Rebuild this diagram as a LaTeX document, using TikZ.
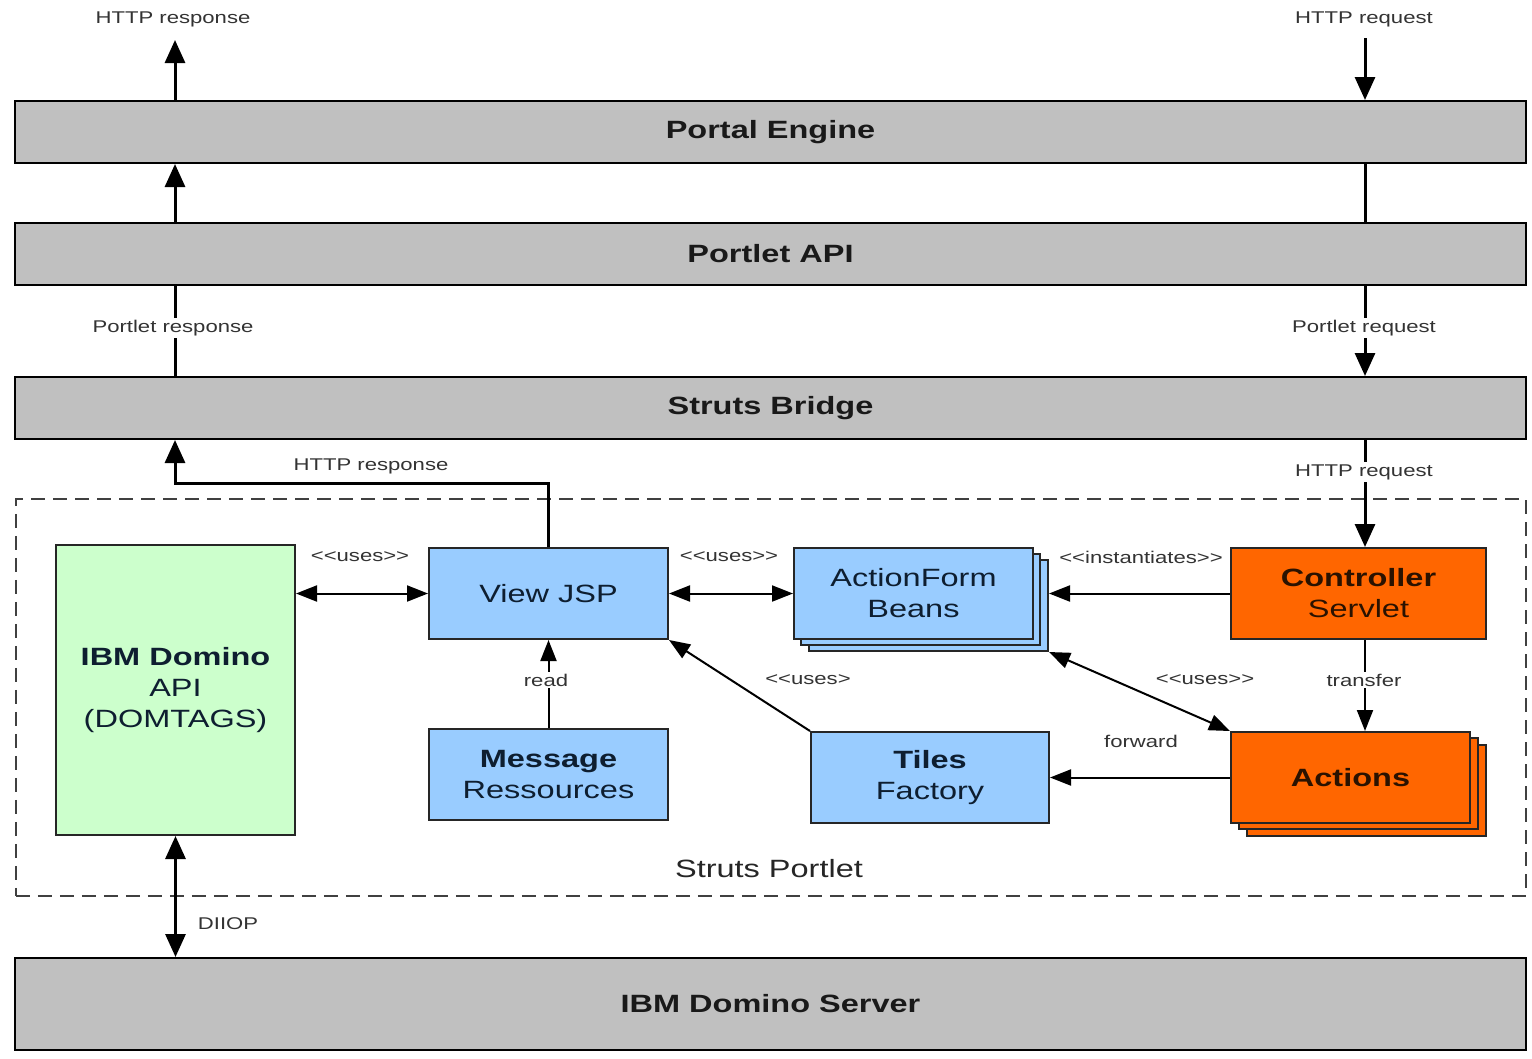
\documentclass[tikz,border=0pt]{standalone}
\usepackage{fontspec}
\setmainfont{Liberation Sans}[FakeStretch=1.3]
\usetikzlibrary{arrows.meta}
\definecolor{barfill}{HTML}{C0C0C0}
\definecolor{bluefill}{HTML}{99CCFF}
\definecolor{greenfill}{HTML}{CCFFCC}
\definecolor{orangefill}{HTML}{FF6600}
\definecolor{navytxt}{HTML}{0E1E30}
\definecolor{darktxt}{HTML}{2A1200}
\definecolor{lblgray}{HTML}{333333}
\newcommand\ltlt{<\kern0pt<}
\newcommand\gtgt{>\kern0pt>}
\newcommand\bartxt{\fontsize{25}{30}\selectfont\bfseries}
\newcommand\boxtxt{\fontsize{25}{31}\selectfont}
\newcommand\lbltxt{\fontsize{17}{20}\selectfont}
\begin{document}
\begin{tikzpicture}[x=1pt,y=-1pt,
  bar/.style={draw=black, line width=2, fill=barfill, minimum width=1511, minimum height=62, anchor=north west, font=\bartxt, text=black!90, inner sep=0},
  box/.style={draw=black!85, line width=2, minimum width=239, minimum height=91, anchor=north west, font=\boxtxt, align=center, text=navytxt, inner sep=0},
  lbl/.style={font=\lbltxt, text=lblgray, inner sep=2},
  wlbl/.style={lbl, fill=white},
  main/.style={line width=3, -{Triangle[length=23pt,width=20pt]}},
  mainline/.style={line width=3},
  uni/.style={line width=2, -{Triangle[length=21pt,width=16pt]}},
  bi/.style={line width=2, {Triangle[length=21pt,width=16pt]}-{Triangle[length=21pt,width=16pt]}},
  bimain/.style={line width=3, {Triangle[length=23pt,width=20pt]}-{Triangle[length=23pt,width=20pt]}},
  dashbox/.style={draw=black!75, line width=1.5, dash pattern=on 14pt off 8pt, minimum width=1510, minimum height=397, anchor=north west, inner sep=0}
]
\useasboundingbox (0,0) rectangle (1532,1058);
\fill[white] (0,0) rectangle (1532,1058);

\coordinate (L) at (175,0);
\coordinate (R) at (1365,0);
\coordinate (topresp) at (175,40);
\coordinate (topreq) at (1365,38);
\coordinate (bend) at (175,483);

% bars
\node[bar] (portal) at (14,100) {Portal Engine};
\node[bar] (portlet) at (14,222) {Portlet API};
\node[bar] (bridge) at (14,376) {Struts Bridge};
\node[bar, minimum height=92] (server) at (14,957) {IBM Domino Server};

% dashed container
\node[dashbox] (sp) at (15,498) {};
\node[font=\boxtxt, text=black!85] (splbl) at (769,869) {Struts Portlet};

% boxes
\node[box, fill=greenfill, minimum height=290] (api) at (55,544) {\textbf{IBM Domino}\\API\\(DOMTAGS)};
\node[box, fill=bluefill] (vjsp) at (428,547) {View JSP};
\node[box, fill=bluefill] (msg) at (428,728) {\textbf{Message}\\Ressources};
\node[box, fill=bluefill] (af3) at (808,559) {};
\node[box, fill=bluefill] (af2) at (800,553) {};
\node[box, fill=bluefill] (af) at (793,547) {ActionForm\\Beans};
\node[box, fill=orangefill, minimum width=255, text=darktxt] (ctrl) at (1230,547) {\textbf{Controller}\\Servlet};
\node[box, fill=bluefill, minimum width=238] (tiles) at (810,731) {\textbf{Tiles}\\Factory};
\node[box, fill=orangefill, text=darktxt] (act3) at (1246,744) {};
\node[box, fill=orangefill, text=darktxt] (act2) at (1238,737) {};
\node[box, fill=orangefill, text=darktxt] (act) at (1230,731) {\textbf{Actions}};

% left flow
\draw[main] (portal.north -| L) -- (topresp);
\node[lbl] at (173,19) {HTTP response};
\draw[main] (portlet.north -| L) -- (portal.south -| L);
\draw[mainline] (bridge.north -| L) -- (portlet.south -| L);
\node[wlbl] at (173,328) {Portlet response};
\draw[main] (vjsp.north) |- (bend) -- (bridge.south -| L);
\node[lbl] at (371,466) {HTTP response};

% right flow
\draw[main] (topreq) -- (portal.north -| R);
\node[lbl] at (1364,19) {HTTP request};
\draw[mainline] (portal.south -| R) -- (portlet.north -| R);
\draw[main] (portlet.south -| R) -- (bridge.north -| R);
\node[wlbl] at (1364,328) {Portlet request};
\draw[main] (bridge.south -| R) -- (ctrl.north -| R);
\node[wlbl] at (1364,472) {HTTP request};

% internal connectors
\draw[bi] (api.east |- vjsp.west) -- (vjsp.west);
\node[lbl] at (360,557) {\ltlt uses\gtgt};
\draw[bi] (vjsp.east) -- (af.west);
\node[lbl] at (729,557) {\ltlt uses\gtgt};
\draw[uni] (ctrl.west) -- (ctrl.west -| af3.east);
\node[lbl] at (1141,557) {\ltlt instantiates\gtgt};
\draw[uni] (msg.north) -- (vjsp.south);
\node[wlbl] at (546,680) {read};
\draw[uni] (tiles.north west) -- (vjsp.south east);
\node[lbl] at (808,680) {\ltlt uses>};
\draw[bi] (af3.south east) -- (act.north west);
\node[lbl] at (1205,680) {\ltlt uses\gtgt};
\draw[uni] (ctrl.south -| R) -- (act.north -| R);
\node[wlbl] at (1364,680) {transfer};
\draw[uni] (act.west) -- (tiles.east);
\node[lbl] at (1141,741) {forward};
\draw[bimain] (api.south) -- (server.north -| api.south);
\node[lbl] at (228,924) {DIIOP};
\end{tikzpicture}
\end{document}
